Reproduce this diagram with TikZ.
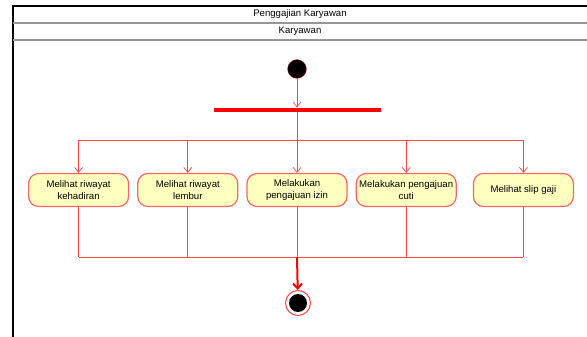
\documentclass[tikz,border=0pt]{standalone}
\usepackage{fontspec}
\setmainfont{Liberation Sans}
\usetikzlibrary{positioning,arrows.meta}
\definecolor{lineRed}{RGB}{255,70,70}
\definecolor{actFill}{RGB}{255,255,192}
\definecolor{actLine}{RGB}{255,100,100}
\definecolor{laneGrey}{RGB}{150,150,150}
\begin{document}
\begin{tikzpicture}[x=1pt,y=-1pt,
    every node/.style={font=\fontsize{9.6}{11.5}\selectfont},
    act/.style={draw=actLine,fill=actFill,line width=1.2pt,rounded corners=10pt,
      minimum width=100pt,minimum height=33pt,align=center,inner sep=1pt},
    flow/.style={draw=lineRed,line width=0.7pt},
    >={Straight Barb[length=5pt,width=8pt]}]
  \useasboundingbox (0,0) rectangle (587,337);
  % swimlane frame
  \draw[line width=1.2pt] (13,337) -- (13,6) -- (587,6);
  \draw[laneGrey,line width=1.5pt] (13,23) -- (587,23) (13,40) -- (587,40);
  \node (pool) at (300,14.5) {Penggajian Karyawan};
  \node (lane) at (300,31) {Karyawan};
  % start and fork
  \node (start) [circle,fill=black,draw=lineRed,line width=0.3pt,minimum size=19pt,inner sep=0pt] at (297,69) {};
  \node (fork) [fill=red,minimum width=167pt,minimum height=4.5pt,inner sep=0pt] at (297,110) {};
  \draw[flow,->] (start) -- (fork);
  % activities
  \node (act3) [act] at (297,190) {Melakukan\\pengajuan izin};
  \node (act2) [act,left=8pt of act3] {Melihat riwayat\\lembur};
  \node (act1) [act,left=8pt of act2] {Melihat riwayat\\kehadiran};
  \node (act4) [act,right=8pt of act3] {Melakukan pengajuan\\cuti};
  \node (act5) [act,right=16pt of act4] {Melihat slip gaji};
  \coordinate (split) at (297,140);
  \coordinate (join) at (297,257);
  \draw[flow] (fork) -- (split) (split -| act1) -- (split -| act5);
  \foreach \i in {1,...,5}
    \draw[flow,->] (split -| act\i) -- (act\i);
  \foreach \i in {1,...,5}
    \draw[flow] (act\i) -- (join -| act\i);
  \draw[flow] (join -| act1) -- (join -| act5);
  % end
  \node (stop) [circle,draw=lineRed,line width=1pt,minimum size=25pt,inner sep=0pt] at (298,303) {};
  \fill (stop.center) circle (9pt);
  \draw[red,line width=2pt,-{Straight Barb[length=5pt,width=9pt]}] (join) -- (stop);
\end{tikzpicture}
\end{document}
